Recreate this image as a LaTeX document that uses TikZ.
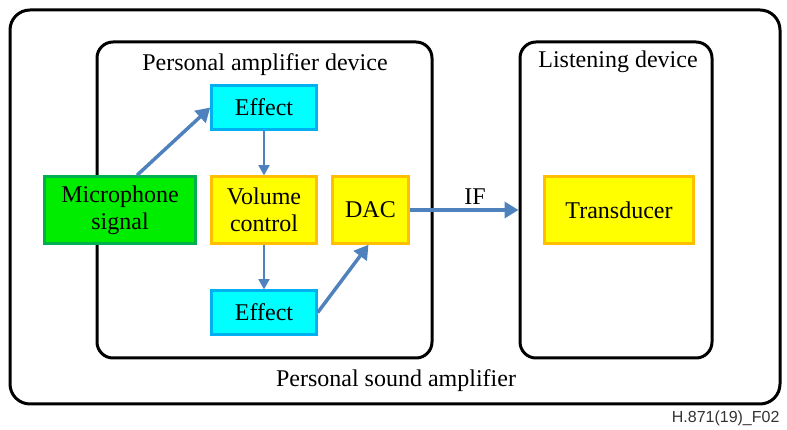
\documentclass[tikz,border=0pt]{standalone}
\usepackage{fontspec}
\setmainfont{Liberation Serif}
\newfontfamily\figsans{Liberation Sans}
\usetikzlibrary{arrows.meta}

\definecolor{efffill}{rgb}{0,1,1}
\definecolor{effline}{rgb}{0,0.69,0.94}
\definecolor{volfill}{rgb}{1,1,0}
\definecolor{volline}{rgb}{1,0.75,0}
\definecolor{micfill}{rgb}{0,0.93,0}
\definecolor{micline}{rgb}{0,0.69,0.31}
\definecolor{flowcol}{rgb}{0.31,0.51,0.74}

\begin{document}
\begin{tikzpicture}[
  font=\fontsize{24}{27}\selectfont
  ,framebox/.style={draw=black,line width=3pt,rounded corners=16pt,inner sep=0pt}
  ,cyanbox/.style={draw=effline,fill=efffill,line width=2.5pt,minimum width=105pt,minimum height=44pt,inner sep=0pt}
  ,yellowbox/.style={draw=volline,fill=volfill,line width=2.5pt,minimum height=67pt,inner sep=0pt}
  ,greenbox/.style={draw=micline,fill=micfill,line width=2.5pt,minimum height=67pt,inner sep=0pt}
  ,boxtext/.style={align=center,text=black}
  ,thinarrow/.style={draw=flowcol,line width=1.5pt,-{Triangle[length=10pt,width=11pt]}}
  ,thickarrow/.style={draw=flowcol,line width=3.5pt,-{Triangle[length=14pt,width=16pt]}}
]
\useasboundingbox (0pt,0pt) rectangle (787pt,430pt);

% --- Frames ---
\node[framebox,rounded corners=20pt,minimum width=770pt,minimum height=394pt] (psa) at (395pt,223pt) {};
\node at (396pt,49pt) (psatitle) {Personal sound amplifier};

\node[framebox,minimum width=335pt,minimum height=316pt] (pad) at (264.5pt,230pt) {};
\node at (265pt,365pt) (padtitle) {Personal amplifier device};

\node[framebox,minimum width=192pt,minimum height=316pt] (listen) at (616pt,230pt) {};
\node at (618pt,368pt) (listentitle) {Listening device};

% --- Blocks (shape first, text on top) ---
\node[greenbox,minimum width=151pt] (mic) at (120pt,220pt) {};
\node[cyanbox] (efftop) at (264pt,322.5pt) {};
\node[yellowbox,minimum width=105pt] (vol) at (264pt,220pt) {};
\node[cyanbox] (effbot) at (264pt,117.5pt) {};
\node[yellowbox,minimum width=76pt] (dac) at (370.5pt,220pt) {};
\node[yellowbox,minimum width=149pt] (trans) at (619pt,220pt) {};

\node[boxtext] at (mic) (mictext) {Microphone\\signal};
\node[boxtext] at (efftop) (efftoptext) {Effect};
\node[boxtext] at (vol) (voltext) {Volume\\control};
\node[boxtext] at (effbot) (effbottext) {Effect};
\node[boxtext] at (dac) (dactext) {DAC};
\node[boxtext] at (trans) (transtext) {Transducer};

% --- Arrows ---
\draw[thickarrow] ([xshift=17pt]mic.north) -- (efftop.west);
\draw[thinarrow] (efftop) -- (vol);
\draw[thinarrow] (vol) -- (effbot);
\draw[thickarrow] (effbot.east) -- ([xshift=-2pt]dac.south);
\draw[thickarrow] (dac.east) -- (dac.east -| listen.west)
  node[pos=0.6,above] (iflabel) {IF};

\node[anchor=east,text=black!80,font=\figsans\fontsize{16}{18}\selectfont] (figid) at (783pt,12pt) {H.871(19)\_F02};

\end{tikzpicture}
\end{document}
